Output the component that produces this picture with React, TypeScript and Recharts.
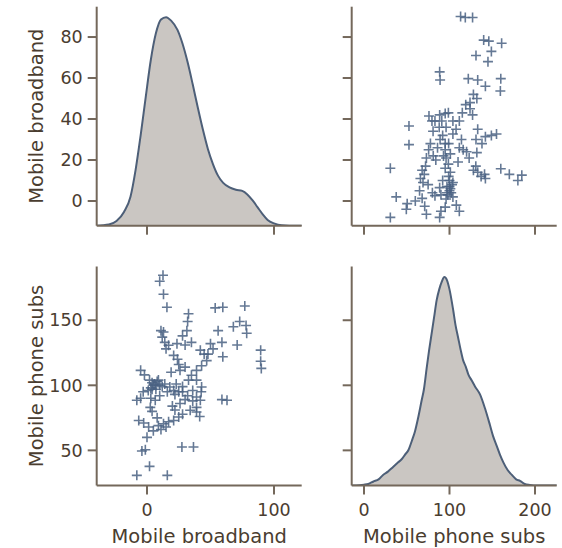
import { Area, ComposedChart, Scatter, XAxis, YAxis } from "recharts";

// paired observations (same index = same country)
const broadband = [
  12.6, 10, 13, 15.7, 11, 13, 12, 14, 17, 15, 32.7, 32, 31.4, 28, 23.6, 30, 35, 21, 42, 45,
  47, 43, 39, 50, 53.7, 59.7, 56, 59, 59.7, 77, 68, 73, 78, 78.5, 71, 89.5, 89.5, 90, 52, 48,
  63, 59, 27.5, 36.6, -4, -1.3, 2, -8, 16, -5, -2, 2, 4, 5, 3, 6, 8, 10, 7, 12,
  14, 1, -3, -8, -5, 2.6, 6.5, 4, -6.5, -2.6, 1.3, 5, 9, 13, 17, 21, 25, 28, 34, 39,
  39, 42, 43, 42.7, 18, 21, 25, 28, 32.7, 35, 39, 32, 26, 30, 36, 39, 26, 30, 16, 10,
  8, 11, 15, 20, 23, 36, 3, 0, 24, 19, 22, 28, 22, 7, 9, 4, 41.5, 25,
];
const phoneSubs = [
  184.6, 180, 170, 160, 142, 141, 137, 133, 130.8, 128, 155, 149, 142, 138, 132, 131, 133, 123, 127, 124,
  119, 115, 111.5, 132, 159.5, 160, 142, 133, 122, 161, 145, 149, 146, 140, 131, 127, 118.5, 113, 128, 124,
  88.5, 89, 52.6, 52.6, 49.5, 50.5, 37.7, 30.8, 30.8, 111.5, 108, 104, 102, 100, 98, 101, 103, 100, 97, 99,
  101, 96, 95, 88.5, 90, 83, 88.5, 80, 73, 71, 68, 65, 69, 70.5, 72, 73, 75.6, 77.7, 80.8, 79.5,
  83, 88.5, 98.7, 95, 98.7, 96, 95, 99, 104, 107.7, 104, 92, 86, 89, 88, 91, 111.5, 114, 95, 92,
  75, 66, 68, 84, 101, 96, 90, 60, 120, 110, 81, 95, 93, 100, 104, 97, 76, 116,
];

// kernel density estimates
const bbGrid = [
  -40, -30, -24, -18, -13, -9, -5, -1, 3, 7, 11, 15, 19, 24, 28, 32, 36, 40, 44, 48,
  52, 56, 60, 65, 70, 75, 79, 83, 87, 91, 95, 100, 106, 112, 122,
];
const bbDensity = [
  0, 0.0001, 0.0004, 0.0012, 0.0025, 0.0048, 0.0078, 0.0111, 0.0143, 0.0166, 0.0178, 0.018,
  0.0177, 0.0169, 0.0157, 0.0141, 0.0122, 0.0102, 0.0083, 0.0066, 0.0053, 0.0043, 0.0037,
  0.0033, 0.0031, 0.003, 0.0027, 0.0022, 0.0016, 0.001, 0.0005, 0.0002, 0.00003, 0, 0,
];
const phoneGrid = [
  -15, -5, 0, 5, 11, 17, 22.6, 28, 34, 40, 44, 48, 52, 56, 59.6, 63, 67.4, 70, 73.3, 76,
  79, 82, 85, 88, 91, 94, 97, 100, 104.5, 107, 110, 113, 116, 119, 122, 126, 130, 135.7,
  141.5, 147.4, 151, 155, 159, 163, 168, 172.7, 178, 182.5, 188, 194, 202, 226,
];
const phoneDensity = [
  0, 0.00002, 0.00005, 0.0001, 0.00026, 0.0004, 0.0007, 0.0009, 0.0012, 0.0015, 0.0017,
  0.002, 0.0023, 0.0029, 0.0035, 0.0043, 0.0055, 0.0062, 0.0076, 0.0087, 0.0098, 0.0109,
  0.012, 0.0127, 0.0132, 0.0135, 0.0133, 0.0127, 0.0113, 0.0104, 0.0096, 0.0088, 0.0081,
  0.0077, 0.0072, 0.0068, 0.0064, 0.0059, 0.005, 0.0039, 0.0032, 0.0026, 0.002, 0.0015,
  0.001, 0.0007, 0.0004, 0.0003, 0.0001, 0.00004, 0, 0,
];

const bbTicks = [0, 100];
const bbRowTicks = [0, 20, 40, 60, 80];
const phoneTicks = [0, 100, 200];
const phoneRowTicks = [50, 100, 150];

const FONT = "DejaVu Sans";
const INK = "#4a3d30";
const AXIS = "#74685b";
const MARK = "#4a6183";
const LINE = "#4d5f78";
const FILL = "#cac6c2";

const PW = 205;
const PH = 219;

const bbDomain: [number, number] = [-39.6, 121.8];
const phoneDomain: [number, number] = [-14.4, 225.4];
const bbRowDomain: [number, number] = [-12.05, 94.8];
const phoneRowDomain: [number, number] = [23, 191.3];

const bbKde = bbGrid.map((x, i) => ({ x, d: bbDensity[i] }));
const phoneKde = phoneGrid.map((x, i) => ({ x, d: phoneDensity[i] }));
const lowerPts = broadband.map((b, i) => ({ x: b, y: phoneSubs[i] }));
const upperPts = broadband.map((b, i) => ({ x: phoneSubs[i], y: b }));

const axisBits = {
  axisLine: { stroke: AXIS, strokeWidth: 2 },
  tickLine: { stroke: AXIS, strokeWidth: 2 },
  tickSize: 9,
  tickMargin: 5,
  interval: 0 as const,
  allowDataOverflow: true,
  tick: { fill: INK, fontSize: 17.5, fontFamily: FONT },
};
const xBits = { ...axisBits, tickMargin: 9 };
const blank = () => "";

const Plus = (props: any) => {
  const { cx, cy } = props;
  if (cx == null || cy == null) return <g />;
  const r = 5;
  return (
    <path
      d={`M${cx - r},${cy}H${cx + r}M${cx},${cy - r}V${cy + r}`}
      stroke={MARK}
      strokeWidth={1.6}
      strokeOpacity={0.85}
      fill="none"
    />
  );
};

const yTitle = (value: string) => ({
  value,
  angle: -90,
  position: "insideLeft" as const,
  offset: 36,
  style: { textAnchor: "middle", fill: INK, fontSize: 19.5, fontFamily: FONT },
});
const xTitle = (value: string) => ({
  value,
  position: "insideBottom" as const,
  offset: 5,
  style: { textAnchor: "middle", fill: INK, fontSize: 19.5, fontFamily: FONT },
});

export default function App() {
  const leftW = 96.7;
  const rightW = 51.7;
  return (
    <div style={{ position: "absolute", left: 0, top: 0, width: 562, height: 548, background: "#fff" }}>
      {/* top-left: broadband density */}
      <div style={{ position: "absolute", left: 0, top: 0 }}>
        <ComposedChart width={leftW + PW} height={6.7 + PH + 20} data={bbKde} margin={{ top: 6.7, right: 0, bottom: 0, left: 0 }}>
          <XAxis type="number" dataKey="x" domain={bbDomain} ticks={bbTicks} height={20} {...xBits} tickFormatter={blank} />
          <YAxis yAxisId="row" type="number" domain={bbRowDomain} ticks={bbRowTicks} width={leftW} {...axisBits} label={yTitle("Mobile broadband")} />
          <YAxis yAxisId="dens" orientation="right" type="number" domain={[0, 0.0189]} hide allowDataOverflow />
          <Area yAxisId="dens" dataKey="d" type="monotone" stroke={LINE} strokeWidth={2} fill={FILL} fillOpacity={1} dot={false} activeDot={false} isAnimationActive={false} />
        </ComposedChart>
      </div>

      {/* top-right: phone subs vs broadband */}
      <div style={{ position: "absolute", left: 300, top: 0 }}>
        <ComposedChart width={rightW + PW} height={6.7 + PH + 20} margin={{ top: 6.7, right: 0, bottom: 0, left: 0 }}>
          <XAxis type="number" dataKey="x" domain={phoneDomain} ticks={phoneTicks} height={20} {...xBits} tickFormatter={blank} />
          <YAxis type="number" dataKey="y" domain={bbRowDomain} ticks={bbRowTicks} width={rightW} {...axisBits} tickFormatter={blank} />
          <Scatter data={upperPts} shape={Plus} isAnimationActive={false} />
        </ComposedChart>
      </div>

      {/* bottom-left: broadband vs phone subs */}
      <div style={{ position: "absolute", left: 0, top: 240 }}>
        <ComposedChart width={leftW + PW} height={26.5 + PH + 62.5} margin={{ top: 26.5, right: 0, bottom: 0, left: 0 }}>
          <XAxis type="number" dataKey="x" domain={bbDomain} ticks={bbTicks} height={62.5} {...xBits} label={xTitle("Mobile broadband")} />
          <YAxis type="number" dataKey="y" domain={phoneRowDomain} ticks={phoneRowTicks} width={leftW} {...axisBits} label={yTitle("Mobile phone subs")} />
          <Scatter data={lowerPts} shape={Plus} isAnimationActive={false} />
        </ComposedChart>
      </div>

      {/* bottom-right: phone subs density */}
      <div style={{ position: "absolute", left: 300, top: 240 }}>
        <ComposedChart width={rightW + PW} height={26.5 + PH + 62.5} data={phoneKde} margin={{ top: 26.5, right: 0, bottom: 0, left: 0 }}>
          <XAxis type="number" dataKey="x" domain={phoneDomain} ticks={phoneTicks} height={62.5} {...xBits} label={xTitle("Mobile phone subs")} />
          <YAxis yAxisId="row" type="number" domain={phoneRowDomain} ticks={phoneRowTicks} width={rightW} {...axisBits} tickFormatter={blank} />
          <YAxis yAxisId="dens" orientation="right" type="number" domain={[0, 0.01418]} hide allowDataOverflow />
          <Area yAxisId="dens" dataKey="d" type="monotone" stroke={LINE} strokeWidth={2} fill={FILL} fillOpacity={1} dot={false} activeDot={false} isAnimationActive={false} />
        </ComposedChart>
      </div>
    </div>
  );
}
